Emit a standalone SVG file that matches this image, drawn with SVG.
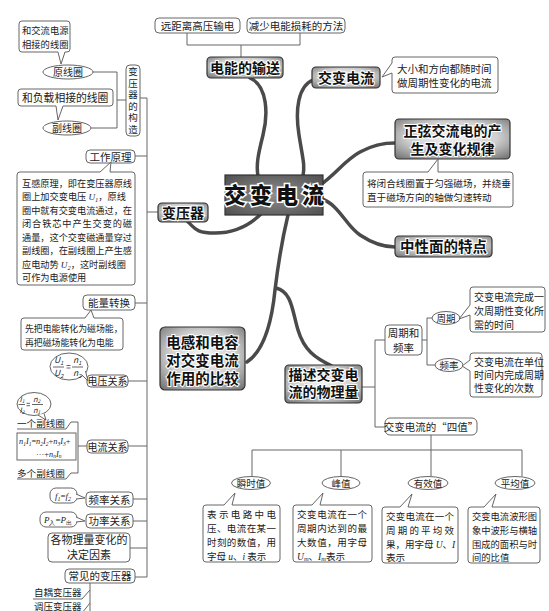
<svg xmlns="http://www.w3.org/2000/svg" width="549" height="611" viewBox="0 0 549 611">
<defs>
<radialGradient id="ng" cx="50%" cy="45%" r="70%">
<stop offset="0" stop-color="#f4f4f4"/><stop offset="0.55" stop-color="#d0d0d0"/><stop offset="1" stop-color="#777"/>
</radialGradient>
<radialGradient id="cg" cx="50%" cy="50%" r="70%">
<stop offset="0" stop-color="#8e8e8e"/><stop offset="1" stop-color="#505050"/>
</radialGradient>
</defs>
<style>
text{font-family:"Noto Sans CJK SC","Noto Sans",sans-serif;fill:#222;}
.s{font-size:10px;}
.c{text-anchor:middle;}
.m{font-size:14px;font-weight:700;text-anchor:middle;fill:#111;stroke:#fff;stroke-width:2px;paint-order:stroke;}
.b{fill:#fff;stroke:#666;stroke-width:1;}
.n{fill:url(#ng);stroke:#333;stroke-width:1.2;}
.l{fill:none;stroke:#666;stroke-width:1;}
.k{fill:none;stroke:#4a4a4a;stroke-width:3.5;stroke-linecap:round;}
.i{font-family:"Liberation Serif",serif;font-style:italic;}
</style>
<rect width="549" height="611" fill="#fff"/>

<g id="connectors">
<path class="l" d="M93,72 H117 V128 H90 M117,100 H126"/>
<path class="l" d="M140,98 H147 M147,98 V577"/>
<path class="l" d="M135,156 H147 M147,212 H158 M135,303 H147 M128,381 H147 M128,446 H147 M133,499 H147 M133,521 H147 M130,548 H147 M135,577 H147"/>
<path class="l" d="M187,33 V45 H300 V33 M241,45 V57"/>
<path class="l" d="M362,387 H375 M375,340 V427 M375,340 H385 M375,427 H385"/>
<path class="l" d="M422,340 H427 M427,318 V365 M427,318 H432 M427,365 H435"/>
<path class="l" d="M431,435 V476.5 M252,450 H522 M252,450 V476.5 M341,450 V476.5 M522,450 V476.5"/>
<path class="l" d="M17,429 H66 L71,422 H78 V473 H71 L66,479 H17 M78,446 H87"/>
<path class="l" d="M90,583 V611 M33,599 H82 L90,590 M82,613 L90,603"/>
<path class="k" d="M250,78 C268,86 268,115 263,135 S256,165 258,176"/>
<path class="k" d="M313,80 C298,86 295,110 299,135 S305,165 303,176"/>
<path class="k" d="M320,185 C335,175 345,160 360,152 S385,143 395,143"/>
<path class="k" d="M320,198 C340,205 345,225 360,235 S385,247 395,247"/>
<path class="k" d="M262,213 C250,225 235,233 215,233 S195,228 188,222"/>
<path class="k" d="M288,215 C282,240 278,265 275,290 C272,320 265,350 247,362"/>
<path class="k" d="M276,288 C292,292 292,310 298,330 S315,358 332,366"/>
</g>

<g id="center">
<rect x="225" y="175" width="98" height="40" fill="url(#cg)" stroke="#333" stroke-width="1.2"/>
<text x="276" y="203" text-anchor="middle" style="font-size:22px;font-weight:900;letter-spacing:4px;fill:#111;stroke:#fff;stroke-width:3px;paint-order:stroke;">交变电流</text>
</g>

<g id="n-dianneng">
<rect class="n" x="207" y="57" width="76" height="21" rx="4"/>
<text class="m" x="245" y="72.5">电能的输送</text>
</g>
<g id="n-yuanjuli">
<rect class="b" x="155" y="18" width="85" height="15" rx="4"/>
<text class="c" x="197.5" y="29.5" style="font-size:10.5px">远距离高压输电</text>
</g>
<g id="n-jianshao">
<rect class="b" x="247" y="18" width="98" height="15" rx="4"/>
<text class="c" x="296" y="29.5" style="font-size:10.5px">减少电能损耗的方法</text>
</g>

<g id="n-jbdl">
<rect class="n" x="312" y="67" width="68" height="21" rx="4"/>
<text class="m" x="346" y="82.5">交变电流</text>
</g>
<g id="c-jbdl">
<path class="b" d="M395,57 H495 Q498,57 498,60 V90 Q498,93 495,93 H395 Q392,93 392,90 V73 L382,77 L392,63 V60 Q392,57 395,57 Z"/>
<text x="397" y="72.5" style="font-size:10.5px">大小和方向都随时间<tspan x="397" dy="14.5">做周期性变化的电流</tspan></text>
</g>

<g id="n-zhengxian">
<rect class="n" x="395" y="119" width="115" height="40" rx="4"/>
<text class="m" x="452.5" y="136">正弦交流电的产<tspan x="452.5" dy="18">生及变化规律</tspan></text>
</g>
<g id="c-zhengxian">
<path class="b" d="M366,172 H428 L438,159 L438,172 H510 Q513,172 513,175 V204 Q513,207 510,207 H366 Q363,207 363,204 V175 Q363,172 366,172 Z"/>
<text x="367" y="186.5" style="font-size:9.6px">将闭合线圈置于匀强磁场，并绕垂<tspan x="367" dy="14">直于磁场方向的轴做匀速转动</tspan></text>
</g>

<g id="n-zhongxing">
<rect class="n" x="395" y="236" width="97" height="21" rx="4"/>
<text class="m" x="443.5" y="251.5" style="font-size:14.5px">中性面的特点</text>
</g>

<g id="n-bianyaqi">
<rect class="n" x="158" y="203" width="50" height="19" rx="4"/>
<text class="m" x="183" y="217.5">变压器</text>
</g>

<g id="n-goucao">
<rect class="b" x="126" y="65" width="14" height="71" rx="4"/>
<text x="133" y="67" writing-mode="vertical-rl" style="font-size:9.5px;letter-spacing:2px">变压器的构造</text>
</g>
<g id="n-yuanxianquan">
<ellipse class="b" cx="68" cy="72" rx="25" ry="7"/>
<text class="s c" x="68" y="75.5">原线圈</text>
</g>
<g id="n-fuxianquan">
<ellipse class="b" cx="67" cy="128" rx="24" ry="7"/>
<text class="s c" x="67" y="131.5">副线圈</text>
</g>
<g id="c-yuan">
<path class="b" d="M22,21 H67 Q70,21 70,24 V49 Q70,52 67,52 H65 L61,64 L58,52 H22 Q19,52 19,49 V24 Q19,21 22,21 Z"/>
<text x="22" y="34" style="font-size:9.3px">和交流电源<tspan x="22" dy="13.5">相接的线圈</tspan></text>
</g>
<g id="c-fu">
<path class="b" d="M21,89 H110 Q113,89 113,92 V103 Q113,106 110,106 H63 L58,120 L56,106 H21 Q18,106 18,103 V92 Q18,89 21,89 Z"/>
<text x="22" y="101.5" style="font-size:10.8px">和负载相接的线圈</text>
</g>

<g id="n-gongzuo">
<rect class="b" x="86" y="150" width="49" height="13" rx="4"/>
<text class="c" x="110.5" y="160.5" style="font-size:10.5px">工作原理</text>
</g>
<g id="c-gongzuo">
<path class="b" d="M20,172 H100 L111,162 L110,172 H132 Q135,172 135,175 V282 Q135,285 132,285 H20 Q17,285 17,282 V175 Q17,172 20,172 Z"/>
<g style="font-size:9.2px">
<text x="22" y="186.5" textLength="110" lengthAdjust="spacing">互感原理，即在变压器原线</text>
<text x="22" y="200">圈上加交变电压 <tspan class="i">U</tspan><tspan class="i" font-size="6.5" dy="2">1</tspan><tspan dy="-2">，原线</tspan></text>
<text x="22" y="213.5" textLength="110" lengthAdjust="spacing">圈中就有交变电流通过，在</text>
<text x="22" y="227" textLength="110" lengthAdjust="spacing">闭合铁芯中产生交变的磁</text>
<text x="22" y="240.5" textLength="110" lengthAdjust="spacing">通量，这个交变磁通量穿过</text>
<text x="22" y="254" textLength="110" lengthAdjust="spacing">副线圈，在副线圈上产生感</text>
<text x="22" y="267.5">应电动势 <tspan class="i">U</tspan><tspan class="i" font-size="6.5" dy="2">2</tspan><tspan dy="-2">，这时副线圈</tspan></text>
<text x="22" y="281">可作为电源使用</text>
</g>
</g>

<g id="n-nengliang">
<rect class="b" x="83" y="295" width="52" height="15" rx="4"/>
<text class="c" x="109" y="306.5" style="font-size:10.5px">能量转换</text>
</g>
<g id="c-nengliang">
<path class="b" d="M24,318 H85 L91,310 L94,318 H120 Q123,318 123,321 V347 Q123,350 120,350 H24 Q21,350 21,347 V321 Q21,318 24,318 Z"/>
<text x="25" y="331.5" style="font-size:8.9px">先把电能转化为磁场能，<tspan x="25" dy="14">再把磁场能转化为电能</tspan></text>
</g>

<g id="n-dianya">
<rect class="b" x="87" y="375" width="41" height="12" rx="4"/>
<text class="s c" x="107.5" y="385">电压关系</text>
</g>
<g id="c-dianya">
<ellipse class="b" cx="69" cy="366.5" rx="19" ry="13.5"/>
<path class="b" d="M82,375 L88,381 L85.5,371"/>
<g class="i" style="font-size:8.5px">
<text x="54" y="363">U<tspan font-size="5.5" dy="1.5">1</tspan></text>
<text x="54" y="376">U<tspan font-size="5.5" dy="1.5">2</tspan></text>
<text x="73" y="363">n<tspan font-size="5.5" dy="1.5">1</tspan></text>
<text x="73" y="376">n<tspan font-size="5.5" dy="1.5">2</tspan></text>
</g>
<path class="l" d="M53,367 H64 M66.5,365.5 H70.5 M66.5,368 H70.5 M72,367 H83" stroke="#333"/>
</g>

<g id="c-dianliu">
<ellipse class="b" cx="34" cy="404" rx="17" ry="11.5"/>
<path class="b" d="M38,415 L46,420 L44,413.5"/>
<g class="i" style="font-size:7.5px">
<text x="19.5" y="401.5">I<tspan font-size="5" dy="1.5">1</tspan></text>
<text x="19.5" y="412.5">I<tspan font-size="5" dy="1.5">2</tspan></text>
<text x="33" y="401.5">n<tspan font-size="5" dy="1.5">2</tspan></text>
<text x="33" y="412.5">n<tspan font-size="5" dy="1.5">1</tspan></text>
</g>
<path class="l" d="M18.5,404.5 H25 M26.5,403.3 H30 M26.5,405.7 H30 M32,404.5 H43" stroke="#333"/>
</g>
<g id="n-yige">
<text x="17" y="427" style="font-size:9.6px">一个副线圈</text>
</g>
<g id="n-gongshi">
<rect class="b" x="17" y="433" width="59" height="27"/>
<text class="i" x="19" y="444" style="font-size:8.3px">n<tspan font-size="5.5" dy="1.5">1</tspan><tspan dy="-1.5">I</tspan><tspan font-size="5.5" dy="1.5">1</tspan><tspan dy="-1.5" style="font-style:normal">=</tspan>n<tspan font-size="5.5" dy="1.5">2</tspan><tspan dy="-1.5">I</tspan><tspan font-size="5.5" dy="1.5">2</tspan><tspan dy="-1.5" style="font-style:normal">+</tspan>n<tspan font-size="5.5" dy="1.5">3</tspan><tspan dy="-1.5">I</tspan><tspan font-size="5.5" dy="1.5">3</tspan><tspan dy="-1.5" style="font-style:normal">+</tspan></text>
<text class="i" x="36" y="456.5" style="font-size:8.3px"><tspan style="font-style:normal">···+</tspan>n<tspan font-size="5.5" dy="1.5">n</tspan><tspan dy="-1.5">I</tspan><tspan font-size="5.5" dy="1.5">n</tspan></text>
</g>
<g id="n-duoge">
<text x="17" y="477" style="font-size:9.6px">多个副线圈</text>
</g>
<g id="n-dianliu">
<rect class="b" x="87" y="440" width="41" height="13" rx="4"/>
<text class="s c" x="107.5" y="450.5">电流关系</text>
</g>

<g id="n-pinlv">
<rect class="b" x="86" y="492" width="47" height="15" rx="4"/>
<text class="c" x="109.5" y="503.5" style="font-size:10.5px">频率关系</text>
</g>
<g id="c-pinlv">
<rect class="b" x="50" y="488" width="27" height="15" rx="6"/>
<path class="b" d="M76,494 L85,498 L76,499"/>
<text class="i c" x="63" y="499" style="font-size:9px">f<tspan font-size="6" dy="1.5">1</tspan><tspan dy="-1.5" style="font-style:normal">=</tspan>f<tspan font-size="6" dy="1.5">2</tspan></text>
</g>
<g id="n-gonglv">
<rect class="b" x="86" y="514" width="47" height="14" rx="4"/>
<text class="c" x="109.5" y="525" style="font-size:10.5px">功率关系</text>
</g>
<g id="c-gonglv">
<rect class="b" x="40" y="512" width="37" height="15" rx="6"/>
<path class="b" d="M76,517 L85,521 L76,522"/>
<text class="i c" x="58" y="523" style="font-size:9px">P<tspan font-size="6" dy="1.5" style="font-style:normal">入</tspan><tspan dy="-1.5" style="font-style:normal">=</tspan>P<tspan font-size="6" dy="1.5" style="font-style:normal">出</tspan></text>
</g>
<g id="n-jueding">
<rect class="b" x="48" y="533" width="82" height="29" rx="4"/>
<text class="c" x="89" y="544" style="font-size:11px">各物理量变化的<tspan x="89" dy="15">决定因素</tspan></text>
</g>
<g id="n-changjian">
<rect class="b" x="65" y="569" width="70" height="14" rx="4"/>
<text class="c" x="100" y="580" style="font-size:10.5px">常见的变压器</text>
</g>
<g id="n-zi">
<text x="34" y="596" style="font-size:9.5px">自耦变压器</text>
</g>
<g id="n-tiao">
<text x="34" y="610" style="font-size:9.5px">调压变压器</text>
</g>

<g id="n-diangan">
<rect class="n" x="160" y="327" width="85" height="63" rx="5"/>
<text class="m" x="202.5" y="348" style="font-size:14.5px">电感和电容<tspan x="202.5" dy="18">对交变电流</tspan><tspan x="202.5" dy="18">作用的比较</tspan></text>
</g>
<g id="n-miaoshu">
<rect class="n" x="285" y="365" width="77" height="38" rx="4"/>
<text class="m" x="323.5" y="380">描述交变电<tspan x="323.5" dy="17">流的物理量</tspan></text>
</g>

<g id="n-zhouqihe">
<rect class="b" x="385" y="325" width="37" height="30" rx="4"/>
<text class="c" x="403.5" y="337" style="font-size:10.5px">周期和<tspan x="403.5" dy="15">频率</tspan></text>
</g>
<g id="n-zhouqi">
<ellipse class="b" cx="446" cy="318" rx="14" ry="6.5"/>
<text class="c" x="446" y="321.5" style="font-size:9.5px">周期</text>
</g>
<g id="n-pinlv2">
<ellipse class="b" cx="449" cy="365" rx="14" ry="6.5"/>
<text class="c" x="449" y="368.5" style="font-size:9.5px">频率</text>
</g>
<g id="c-zhouqi">
<path class="b" d="M473,287 H542 Q545,287 545,290 V329 Q545,332 542,332 H473 Q470,332 470,329 V315 L459,319 L470,305 V290 Q470,287 473,287 Z"/>
<text x="474" y="301" style="font-size:10px">交变电流完成一<tspan x="474" dy="14">次周期性变化所</tspan><tspan x="474" dy="14">需的时间</tspan></text>
</g>
<g id="c-pinlv2">
<path class="b" d="M473,353 H539 Q542,353 542,356 V394 Q542,397 539,397 H473 Q470,397 470,394 V371 L462,366 L470,360 V356 Q470,353 473,353 Z"/>
<text x="474" y="365.5" style="font-size:10px">交变电流在单位<tspan x="474" dy="13">时间内完成周期</tspan><tspan x="474" dy="13">性变化的次数</tspan></text>
</g>

<g id="n-sizhi">
<rect class="b" x="385" y="418" width="92" height="17" rx="5"/>
<text class="c" x="431" y="430.5" style="font-size:10.5px">交变电流的“四值”</text>
</g>

<g id="n-shunshi">
<ellipse class="b" cx="251" cy="483" rx="19.5" ry="6.5"/>
<text class="c" x="251" y="486.5" style="font-size:9.5px">瞬时值</text>
</g>
<g id="n-fengzhi">
<ellipse class="b" cx="341" cy="483" rx="19" ry="6.5"/>
<text class="c" x="341" y="486.5" style="font-size:9.5px">峰值</text>
</g>
<g id="n-youxiao">
<ellipse class="b" cx="428" cy="483" rx="20" ry="6.5"/>
<text class="c" x="428" y="486.5" style="font-size:9.5px">有效值</text>
</g>
<g id="n-pingjun">
<ellipse class="b" cx="515" cy="483" rx="20" ry="6.5"/>
<text class="c" x="515" y="486.5" style="font-size:9.5px">平均值</text>
</g>

<g id="c-shunshi">
<path class="b" d="M206,505 H224 L235,493 L232,505 H277 Q280,505 280,508 V559 Q280,562 277,562 H206 Q203,562 203,559 V508 Q203,505 206,505 Z"/>
<g style="font-size:9.5px">
<text x="207" y="518" textLength="69" lengthAdjust="spacing">表示电路中电</text>
<text x="207" y="532" textLength="69" lengthAdjust="spacing">压、电流在某一</text>
<text x="207" y="546" textLength="69" lengthAdjust="spacing">时刻的数值，用</text>
<text x="207" y="559.5">字母 <tspan class="i">u</tspan>、<tspan class="i">i</tspan> 表示</text>
</g>
</g>
<g id="c-fengzhi">
<path class="b" d="M296,505 H312 L323,493 L320,505 H369 Q372,505 372,508 V559 Q372,562 369,562 H296 Q293,562 293,559 V508 Q293,505 296,505 Z"/>
<g style="font-size:9.5px">
<text x="297" y="518" textLength="70" lengthAdjust="spacing">交变电流在一个</text>
<text x="297" y="532" textLength="70" lengthAdjust="spacing">周期内达到的最</text>
<text x="297" y="546" textLength="70" lengthAdjust="spacing">大数值，用字母</text>
<text x="297" y="559.5"><tspan class="i">U</tspan><tspan class="i" font-size="6.5" dy="1.5">m</tspan><tspan dy="-1.5">、</tspan><tspan class="i">I</tspan><tspan class="i" font-size="6.5" dy="1.5">m</tspan><tspan dy="-1.5">表示</tspan></text>
</g>
</g>
<g id="c-youxiao">
<path class="b" d="M385,507 H400 L412,494 L408,507 H455 Q458,507 458,510 V560 Q458,563 455,563 H385 Q382,563 382,560 V510 Q382,507 385,507 Z"/>
<g style="font-size:9.5px">
<text x="386" y="520" textLength="68" lengthAdjust="spacing">交变电流在一个</text>
<text x="386" y="534" textLength="68" lengthAdjust="spacing">周期的平均效</text>
<text x="386" y="548">果，用字母 <tspan class="i">U</tspan>、<tspan class="i">I</tspan></text>
<text x="386" y="561">表示</text>
</g>
</g>
<g id="c-pingjun">
<path class="b" d="M471,507 H484 L496,494 L492,507 H537 Q540,507 540,510 V560 Q540,563 537,563 H471 Q468,563 468,560 V510 Q468,507 471,507 Z"/>
<g style="font-size:9.3px">
<text x="472" y="520" textLength="65" lengthAdjust="spacing">交变电流波形图</text>
<text x="472" y="534" textLength="65" lengthAdjust="spacing">象中波形与横轴</text>
<text x="472" y="548" textLength="65" lengthAdjust="spacing">围成的面积与时</text>
<text x="472" y="561">间的比值</text>
</g>
</g>
</svg>
